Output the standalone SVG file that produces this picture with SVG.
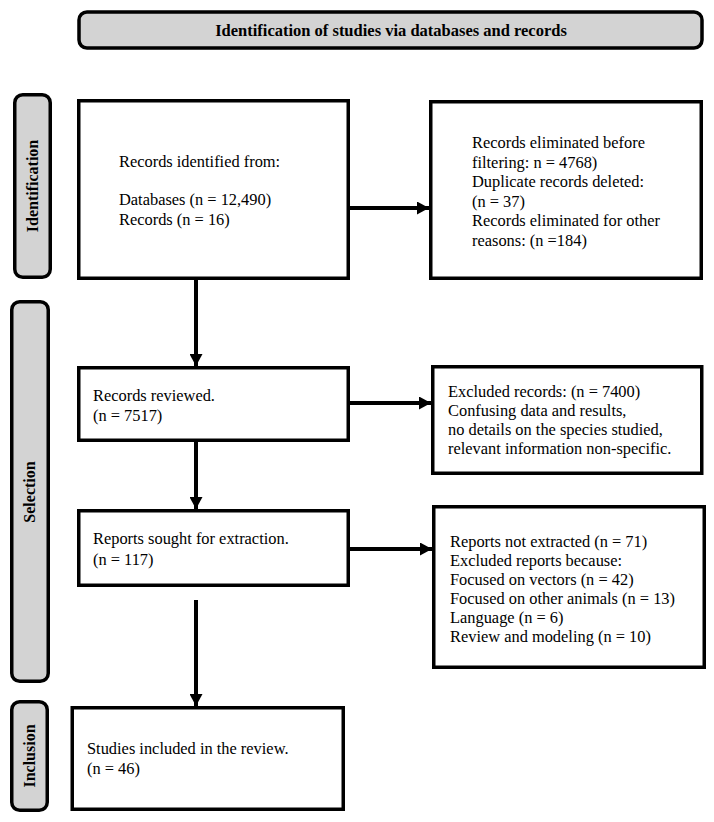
<svg xmlns="http://www.w3.org/2000/svg" width="714" height="822" viewBox="0 0 714 822">
<defs>
<marker id="ah" markerUnits="userSpaceOnUse" markerWidth="13" markerHeight="13" refX="12" refY="6.5" orient="auto">
<path d="M0,0 L12,6.5 L0,13 Z" fill="#000"/>
</marker>
<style>
.box{fill:#fff;stroke:#000;stroke-width:3.5}
.lab{fill:#d3d3d3;stroke:#000;stroke-width:3.5}
.t{font-family:"Liberation Serif","Times New Roman",serif;font-size:16.4px;fill:#000}
.b{font-family:"Liberation Serif","Times New Roman",serif;font-size:16.5px;font-weight:bold;fill:#000}
.s{font-family:"Liberation Serif","Times New Roman",serif;font-size:16px;font-weight:bold;fill:#000}
.c{stroke:#000;stroke-width:4;fill:none}
</style>
</defs>
<rect width="714" height="822" fill="#fff"/>
<g id="header">
<rect class="lab" x="79" y="12" width="623" height="36" rx="8"/>
<text class="b" x="391" y="36" text-anchor="middle">Identification of studies via databases and records</text>
</g>
<g id="label-identification">
<rect class="lab" x="14.75" y="94.75" width="35.5" height="182.5" rx="8"/>
<text class="s" transform="translate(37.5,186) rotate(-90)" text-anchor="middle">Identification</text>
</g>
<g id="label-selection">
<rect class="lab" x="11.75" y="301.75" width="36.5" height="379.5" rx="8"/>
<text class="s" transform="translate(35,492) rotate(-90)" text-anchor="middle">Selection</text>
</g>
<g id="label-inclusion">
<rect class="lab" x="11.75" y="701.75" width="35.5" height="108.5" rx="8"/>
<text class="s" transform="translate(34.5,756) rotate(-90)" text-anchor="middle">Inclusion</text>
</g>
<g id="records-identified">
<rect class="box" x="78.75" y="100.75" width="269.5" height="177.5"/>
<text class="t" x="119" y="167">Records identified from:</text>
<text class="t" x="119" y="205">Databases (n = 12,490)</text>
<text class="t" x="119" y="225">Records (n = 16)</text>
</g>
<g id="records-eliminated">
<rect class="box" x="430.75" y="101.75" width="270.5" height="176.5"/>
<text class="t" x="472" y="148">Records eliminated before</text>
<text class="t" x="472" y="167.5">filtering: n = 4768)</text>
<text class="t" x="472" y="187">Duplicate records deleted:</text>
<text class="t" x="472" y="206.5">(n = 37)</text>
<text class="t" x="472" y="226">Records eliminated for other</text>
<text class="t" x="472" y="245.5">reasons: (n =184)</text>
</g>
<g id="records-reviewed">
<rect class="box" x="78.75" y="367.75" width="269.5" height="72.5"/>
<text class="t" x="93" y="401">Records reviewed.</text>
<text class="t" x="93" y="421">(n = 7517)</text>
</g>
<g id="excluded-records">
<rect class="box" x="432.75" y="366.75" width="269" height="106.5"/>
<text class="t" x="448" y="397">Excluded records: (n = 7400)</text>
<text class="t" x="448" y="416">Confusing data and results,</text>
<text class="t" x="448" y="435">no details on the species studied,</text>
<text class="t" x="448" y="454">relevant information non-specific.</text>
</g>
<g id="reports-sought">
<rect class="box" x="78.75" y="510.75" width="269.5" height="74.5"/>
<text class="t" x="93" y="544">Reports sought for extraction.</text>
<text class="t" x="93" y="565">(n = 117)</text>
</g>
<g id="reports-not-extracted">
<rect class="box" x="433.75" y="506.75" width="270.5" height="160.5"/>
<text class="t" x="450" y="547">Reports not extracted (n = 71)</text>
<text class="t" x="450" y="566">Excluded reports because:</text>
<text class="t" x="450" y="585">Focused on vectors (n = 42)</text>
<text class="t" x="450" y="604">Focused on other animals (n = 13)</text>
<text class="t" x="450" y="623">Language (n = 6)</text>
<text class="t" x="450" y="642">Review and modeling (n = 10)</text>
</g>
<g id="studies-included">
<rect class="box" x="72.25" y="707.75" width="271" height="101.5"/>
<text class="t" x="87" y="754">Studies included in the review.</text>
<text class="t" x="87" y="774">(n = 46)</text>
</g>
<g id="connectors">
<line class="c" x1="350" y1="208" x2="429" y2="208" marker-end="url(#ah)"/>
<line class="c" x1="196" y1="280" x2="196" y2="366" marker-end="url(#ah)"/>
<line class="c" x1="350" y1="403" x2="431" y2="403" marker-end="url(#ah)"/>
<line class="c" x1="196" y1="442" x2="196" y2="509" marker-end="url(#ah)"/>
<line class="c" x1="350" y1="549" x2="432" y2="549" marker-end="url(#ah)"/>
<line class="c" x1="196" y1="600" x2="196" y2="706" marker-end="url(#ah)"/>
</g>
</svg>
